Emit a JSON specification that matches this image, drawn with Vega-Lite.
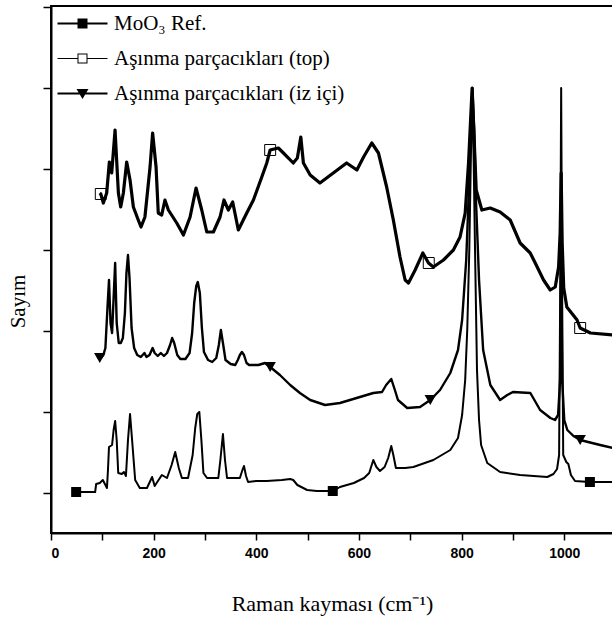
{
  "$schema": "https://vega.github.io/schema/vega-lite/v6.json",
  "width": 562,
  "height": 527,
  "autosize": {"type": "none"},
  "padding": {"left": 51, "top": 6, "right": 0, "bottom": 91},
  "background": "white",
  "config": {
    "view": {"stroke": "black", "strokeWidth": 2},
    "axis": {"grid": false, "domainColor": "black", "domainWidth": 2, "tickColor": "black", "tickWidth": 1.5, "labelColor": "black", "titleColor": "black"}
  },
  "datasets": {
    "spectra": [
      {"series": "MoO₃ Ref.", "x": 49, "y": 1}, {"series": "MoO₃ Ref.", "x": 86, "y": 1}, {"series": "MoO₃ Ref.", "x": 88, "y": 9}, {"series": "MoO₃ Ref.", "x": 95, "y": 10}, {"series": "MoO₃ Ref.", "x": 101, "y": 13}, {"series": "MoO₃ Ref.", "x": 105, "y": 9}, {"series": "MoO₃ Ref.", "x": 109, "y": 5}, {"series": "MoO₃ Ref.", "x": 111, "y": 23}, {"series": "MoO₃ Ref.", "x": 113, "y": 46}, {"series": "MoO₃ Ref.", "x": 119, "y": 48}, {"series": "MoO₃ Ref.", "x": 122, "y": 63}, {"series": "MoO₃ Ref.", "x": 125, "y": 72}, {"series": "MoO₃ Ref.", "x": 128, "y": 53}, {"series": "MoO₃ Ref.", "x": 131, "y": 20}, {"series": "MoO₃ Ref.", "x": 138, "y": 19}, {"series": "MoO₃ Ref.", "x": 142, "y": 21}, {"series": "MoO₃ Ref.", "x": 146, "y": 17}, {"series": "MoO₃ Ref.", "x": 150, "y": 53}, {"series": "MoO₃ Ref.", "x": 154, "y": 79}, {"series": "MoO₃ Ref.", "x": 158, "y": 53}, {"series": "MoO₃ Ref.", "x": 164, "y": 13}, {"series": "MoO₃ Ref.", "x": 173, "y": 5}, {"series": "MoO₃ Ref.", "x": 187, "y": 5}, {"series": "MoO₃ Ref.", "x": 197, "y": 16}, {"series": "MoO₃ Ref.", "x": 202, "y": 7}, {"series": "MoO₃ Ref.", "x": 207, "y": 11}, {"series": "MoO₃ Ref.", "x": 216, "y": 18}, {"series": "MoO₃ Ref.", "x": 226, "y": 15}, {"series": "MoO₃ Ref.", "x": 235, "y": 28}, {"series": "MoO₃ Ref.", "x": 242, "y": 41}, {"series": "MoO₃ Ref.", "x": 249, "y": 25}, {"series": "MoO₃ Ref.", "x": 255, "y": 15}, {"series": "MoO₃ Ref.", "x": 267, "y": 15}, {"series": "MoO₃ Ref.", "x": 276, "y": 38}, {"series": "MoO₃ Ref.", "x": 281, "y": 65}, {"series": "MoO₃ Ref.", "x": 285, "y": 79}, {"series": "MoO₃ Ref.", "x": 289, "y": 81}, {"series": "MoO₃ Ref.", "x": 293, "y": 53}, {"series": "MoO₃ Ref.", "x": 297, "y": 20}, {"series": "MoO₃ Ref.", "x": 304, "y": 15}, {"series": "MoO₃ Ref.", "x": 326, "y": 15}, {"series": "MoO₃ Ref.", "x": 330, "y": 33}, {"series": "MoO₃ Ref.", "x": 335, "y": 59}, {"series": "MoO₃ Ref.", "x": 339, "y": 33}, {"series": "MoO₃ Ref.", "x": 343, "y": 15}, {"series": "MoO₃ Ref.", "x": 368, "y": 15}, {"series": "MoO₃ Ref.", "x": 373, "y": 23}, {"series": "MoO₃ Ref.", "x": 376, "y": 27}, {"series": "MoO₃ Ref.", "x": 380, "y": 17}, {"series": "MoO₃ Ref.", "x": 384, "y": 11}, {"series": "MoO₃ Ref.", "x": 400, "y": 12}, {"series": "MoO₃ Ref.", "x": 420, "y": 12}, {"series": "MoO₃ Ref.", "x": 450, "y": 13}, {"series": "MoO₃ Ref.", "x": 466, "y": 14}, {"series": "MoO₃ Ref.", "x": 472, "y": 13}, {"series": "MoO₃ Ref.", "x": 480, "y": 8}, {"series": "MoO₃ Ref.", "x": 499, "y": 3}, {"series": "MoO₃ Ref.", "x": 518, "y": 2}, {"series": "MoO₃ Ref.", "x": 538, "y": 2}, {"series": "MoO₃ Ref.", "x": 550, "y": 2}, {"series": "MoO₃ Ref.", "x": 563, "y": 6}, {"series": "MoO₃ Ref.", "x": 590, "y": 10}, {"series": "MoO₃ Ref.", "x": 610, "y": 15}, {"series": "MoO₃ Ref.", "x": 620, "y": 20}, {"series": "MoO₃ Ref.", "x": 628, "y": 33}, {"series": "MoO₃ Ref.", "x": 634, "y": 26}, {"series": "MoO₃ Ref.", "x": 641, "y": 22}, {"series": "MoO₃ Ref.", "x": 650, "y": 26}, {"series": "MoO₃ Ref.", "x": 657, "y": 35}, {"series": "MoO₃ Ref.", "x": 663, "y": 47}, {"series": "MoO₃ Ref.", "x": 667, "y": 38}, {"series": "MoO₃ Ref.", "x": 672, "y": 25}, {"series": "MoO₃ Ref.", "x": 690, "y": 25}, {"series": "MoO₃ Ref.", "x": 706, "y": 26}, {"series": "MoO₃ Ref.", "x": 745, "y": 33}, {"series": "MoO₃ Ref.", "x": 778, "y": 43}, {"series": "MoO₃ Ref.", "x": 793, "y": 55}, {"series": "MoO₃ Ref.", "x": 801, "y": 78}, {"series": "MoO₃ Ref.", "x": 807, "y": 113}, {"series": "MoO₃ Ref.", "x": 811, "y": 163}, {"series": "MoO₃ Ref.", "x": 815, "y": 243}, {"series": "MoO₃ Ref.", "x": 818, "y": 333}, {"series": "MoO₃ Ref.", "x": 820.5, "y": 405}, {"series": "MoO₃ Ref.", "x": 823.5, "y": 333}, {"series": "MoO₃ Ref.", "x": 826.5, "y": 233}, {"series": "MoO₃ Ref.", "x": 830, "y": 123}, {"series": "MoO₃ Ref.", "x": 834, "y": 73}, {"series": "MoO₃ Ref.", "x": 838, "y": 48}, {"series": "MoO₃ Ref.", "x": 850, "y": 30}, {"series": "MoO₃ Ref.", "x": 875, "y": 21}, {"series": "MoO₃ Ref.", "x": 914, "y": 18}, {"series": "MoO₃ Ref.", "x": 967, "y": 16}, {"series": "MoO₃ Ref.", "x": 979, "y": 19}, {"series": "MoO₃ Ref.", "x": 986, "y": 24}, {"series": "MoO₃ Ref.", "x": 990, "y": 38}, {"series": "MoO₃ Ref.", "x": 992, "y": 193}, {"series": "MoO₃ Ref.", "x": 994, "y": 405}, {"series": "MoO₃ Ref.", "x": 996, "y": 193}, {"series": "MoO₃ Ref.", "x": 998, "y": 38}, {"series": "MoO₃ Ref.", "x": 1004, "y": 31}, {"series": "MoO₃ Ref.", "x": 1008, "y": 29}, {"series": "MoO₃ Ref.", "x": 1013, "y": 18}, {"series": "MoO₃ Ref.", "x": 1021, "y": 12}, {"series": "MoO₃ Ref.", "x": 1049, "y": 11}, {"series": "MoO₃ Ref.", "x": 1095, "y": 11},

      {"series": "Aşınma parçacıkları (top)", "x": 95, "y": 300}, {"series": "Aşınma parçacıkları (top)", "x": 97, "y": 299}, {"series": "Aşınma parçacıkları (top)", "x": 102, "y": 290}, {"series": "Aşınma parçacıkları (top)", "x": 108.5, "y": 300}, {"series": "Aşınma parçacıkları (top)", "x": 113.7, "y": 331}, {"series": "Aşınma parçacıkları (top)", "x": 118.3, "y": 320}, {"series": "Aşınma parçacıkları (top)", "x": 124.8, "y": 363}, {"series": "Aşınma parçacıkları (top)", "x": 131.3, "y": 300}, {"series": "Aşınma parçacıkları (top)", "x": 135.8, "y": 286}, {"series": "Aşınma parçacıkları (top)", "x": 141, "y": 300}, {"series": "Aşınma parçacıkları (top)", "x": 147.5, "y": 331}, {"series": "Aşınma parçacıkları (top)", "x": 154, "y": 313}, {"series": "Aşınma parçacıkları (top)", "x": 160.5, "y": 286}, {"series": "Aşınma parçacıkları (top)", "x": 170, "y": 273}, {"series": "Aşınma parçacıkları (top)", "x": 175.4, "y": 266}, {"series": "Aşınma parçacıkları (top)", "x": 183, "y": 276}, {"series": "Aşınma parçacıkları (top)", "x": 193, "y": 326}, {"series": "Aşınma parçacıkları (top)", "x": 198, "y": 360}, {"series": "Aşınma parçacıkları (top)", "x": 204.7, "y": 326}, {"series": "Aşınma parçacıkları (top)", "x": 209, "y": 280}, {"series": "Aşınma parçacıkları (top)", "x": 215.7, "y": 278}, {"series": "Aşınma parçacıkları (top)", "x": 222, "y": 293}, {"series": "Aşınma parçacıkları (top)", "x": 228.7, "y": 283}, {"series": "Aşınma parçacıkları (top)", "x": 245, "y": 270}, {"series": "Aşınma parçacıkları (top)", "x": 258, "y": 258}, {"series": "Aşınma parçacıkları (top)", "x": 271, "y": 276}, {"series": "Aşınma parçacıkları (top)", "x": 282.6, "y": 305}, {"series": "Aşınma parçacıkları (top)", "x": 293.7, "y": 283}, {"series": "Aşınma parçacıkları (top)", "x": 303.5, "y": 261}, {"series": "Aşınma parçacıkları (top)", "x": 316.4, "y": 261}, {"series": "Aşınma parçacıkları (top)", "x": 329.4, "y": 276}, {"series": "Aşınma parçacıkları (top)", "x": 337, "y": 293}, {"series": "Aşınma parçacıkları (top)", "x": 345.6, "y": 283}, {"series": "Aşınma parçacıkları (top)", "x": 354, "y": 291}, {"series": "Aşınma parçacıkları (top)", "x": 365, "y": 263}, {"series": "Aşınma parçacıkları (top)", "x": 381.4, "y": 280}, {"series": "Aşınma parçacıkları (top)", "x": 394.4, "y": 293}, {"series": "Aşınma parçacıkları (top)", "x": 410.7, "y": 316}, {"series": "Aşınma parçacıkları (top)", "x": 420.4, "y": 330}, {"series": "Aşınma parçacıkları (top)", "x": 427, "y": 343}, {"series": "Aşınma parçacıkları (top)", "x": 443, "y": 345}, {"series": "Aşınma parçacıkları (top)", "x": 452.8, "y": 340}, {"series": "Aşınma parçacıkları (top)", "x": 472, "y": 330}, {"series": "Aşınma parçacıkları (top)", "x": 480, "y": 335}, {"series": "Aşınma parçacıkları (top)", "x": 486.7, "y": 356}, {"series": "Aşınma parçacıkları (top)", "x": 491.8, "y": 330}, {"series": "Aşınma parçacıkları (top)", "x": 505, "y": 318}, {"series": "Aşınma parçacıkları (top)", "x": 524, "y": 310}, {"series": "Aşınma parçacıkları (top)", "x": 550, "y": 320}, {"series": "Aşınma parçacıkları (top)", "x": 576, "y": 330}, {"series": "Aşınma parçacıkları (top)", "x": 596, "y": 323}, {"series": "Aşınma parçacıkları (top)", "x": 609, "y": 336}, {"series": "Aşınma parçacıkları (top)", "x": 625, "y": 350}, {"series": "Aşınma parçacıkları (top)", "x": 638, "y": 340}, {"series": "Aşınma parçacıkları (top)", "x": 654, "y": 306}, {"series": "Aşınma parçacıkları (top)", "x": 667, "y": 273}, {"series": "Aşınma parçacıkları (top)", "x": 680, "y": 236}, {"series": "Aşınma parçacıkları (top)", "x": 690, "y": 213}, {"series": "Aşınma parçacıkları (top)", "x": 696.5, "y": 210}, {"series": "Aşınma parçacıkları (top)", "x": 709.5, "y": 223}, {"series": "Aşınma parçacıkları (top)", "x": 724.5, "y": 240}, {"series": "Aşınma parçacıkları (top)", "x": 735.5, "y": 230}, {"series": "Aşınma parçacıkları (top)", "x": 745, "y": 226}, {"series": "Aşınma parçacıkları (top)", "x": 764.7, "y": 233}, {"series": "Aşınma parçacıkları (top)", "x": 784, "y": 243}, {"series": "Aşınma parçacıkları (top)", "x": 797, "y": 256}, {"series": "Aşınma parçacıkları (top)", "x": 807, "y": 280}, {"series": "Aşınma parçacıkları (top)", "x": 813.5, "y": 330}, {"series": "Aşınma parçacıkları (top)", "x": 820.5, "y": 405}, {"series": "Aşınma parçacıkları (top)", "x": 828.5, "y": 303}, {"series": "Aşınma parçacıkları (top)", "x": 839.5, "y": 283}, {"series": "Aşınma parçacıkları (top)", "x": 855.8, "y": 285}, {"series": "Aşınma parçacıkları (top)", "x": 875, "y": 281}, {"series": "Aşınma parçacıkları (top)", "x": 894.7, "y": 273}, {"series": "Aşınma parçacıkları (top)", "x": 914, "y": 250}, {"series": "Aşınma parçacıkları (top)", "x": 933.7, "y": 240}, {"series": "Aşınma parçacıkları (top)", "x": 943.5, "y": 230}, {"series": "Aşınma parçacıkları (top)", "x": 959.7, "y": 213}, {"series": "Aşınma parçacıkları (top)", "x": 972.7, "y": 203}, {"series": "Aşınma parçacıkları (top)", "x": 982.5, "y": 206}, {"series": "Aşınma parçacıkları (top)", "x": 989, "y": 226}, {"series": "Aşınma parçacıkları (top)", "x": 992, "y": 260}, {"series": "Aşınma parçacıkları (top)", "x": 994, "y": 320}, {"series": "Aşınma parçacıkları (top)", "x": 996, "y": 250}, {"series": "Aşınma parçacıkları (top)", "x": 999, "y": 205}, {"series": "Aşınma parçacıkları (top)", "x": 1005, "y": 186}, {"series": "Aşınma parçacıkları (top)", "x": 1025, "y": 173}, {"series": "Aşınma parçacıkları (top)", "x": 1031, "y": 165}, {"series": "Aşınma parçacıkları (top)", "x": 1051, "y": 160}, {"series": "Aşınma parçacıkları (top)", "x": 1095, "y": 158},

      {"series": "Aşınma parçacıkları (iz içi)", "x": 90, "y": 136}, {"series": "Aşınma parçacıkları (iz içi)", "x": 97, "y": 135}, {"series": "Aşınma parçacıkları (iz içi)", "x": 102, "y": 138}, {"series": "Aşınma parçacıkları (iz içi)", "x": 106, "y": 145}, {"series": "Aşınma parçacıkları (iz içi)", "x": 110, "y": 185}, {"series": "Aşınma parçacıkları (iz içi)", "x": 113, "y": 213}, {"series": "Aşınma parçacıkları (iz içi)", "x": 116, "y": 170}, {"series": "Aşınma parçacıkları (iz içi)", "x": 119, "y": 160}, {"series": "Aşınma parçacıkları (iz içi)", "x": 122, "y": 195}, {"series": "Aşınma parçacıkları (iz içi)", "x": 125, "y": 230}, {"series": "Aşınma parçacıkları (iz içi)", "x": 128, "y": 170}, {"series": "Aşınma parçacıkları (iz içi)", "x": 132, "y": 150}, {"series": "Aşınma parçacıkları (iz içi)", "x": 136, "y": 150}, {"series": "Aşınma parçacıkları (iz içi)", "x": 140, "y": 155}, {"series": "Aşınma parçacıkları (iz içi)", "x": 144, "y": 180}, {"series": "Aşınma parçacıkları (iz içi)", "x": 147, "y": 220}, {"series": "Aşınma parçacıkları (iz içi)", "x": 150, "y": 238}, {"series": "Aşınma parçacıkları (iz içi)", "x": 153, "y": 215}, {"series": "Aşınma parçacıkları (iz içi)", "x": 157, "y": 165}, {"series": "Aşınma parçacıkları (iz içi)", "x": 162, "y": 145}, {"series": "Aşınma parçacıkları (iz içi)", "x": 168, "y": 138}, {"series": "Aşınma parçacıkları (iz içi)", "x": 175, "y": 136}, {"series": "Aşınma parçacıkları (iz içi)", "x": 182, "y": 140}, {"series": "Aşınma parçacıkları (iz içi)", "x": 186, "y": 136}, {"series": "Aşınma parçacıkları (iz içi)", "x": 192, "y": 138}, {"series": "Aşınma parçacıkları (iz içi)", "x": 198, "y": 145}, {"series": "Aşınma parçacıkları (iz içi)", "x": 202, "y": 140}, {"series": "Aşınma parçacıkları (iz içi)", "x": 208, "y": 137}, {"series": "Aşınma parçacıkları (iz içi)", "x": 214, "y": 140}, {"series": "Aşınma parçacıkları (iz içi)", "x": 220, "y": 137}, {"series": "Aşınma parçacıkları (iz içi)", "x": 226, "y": 140}, {"series": "Aşınma parçacıkları (iz içi)", "x": 232, "y": 148}, {"series": "Aşınma parçacıkları (iz içi)", "x": 236, "y": 155}, {"series": "Aşınma parçacıkları (iz içi)", "x": 240, "y": 150}, {"series": "Aşınma parçacıkları (iz içi)", "x": 246, "y": 138}, {"series": "Aşınma parçacıkları (iz içi)", "x": 252, "y": 134}, {"series": "Aşınma parçacıkları (iz içi)", "x": 262, "y": 134}, {"series": "Aşınma parçacıkları (iz içi)", "x": 270, "y": 140}, {"series": "Aşınma parçacıkları (iz içi)", "x": 275, "y": 160}, {"series": "Aşınma parçacıkları (iz içi)", "x": 279, "y": 190}, {"series": "Aşınma parçacıkları (iz içi)", "x": 283, "y": 207}, {"series": "Aşınma parçacıkları (iz içi)", "x": 286, "y": 211}, {"series": "Aşınma parçacıkları (iz içi)", "x": 290, "y": 200}, {"series": "Aşınma parçacıkları (iz içi)", "x": 294, "y": 165}, {"series": "Aşınma parçacıkları (iz içi)", "x": 298, "y": 141}, {"series": "Aşınma parçacıkları (iz içi)", "x": 306, "y": 133}, {"series": "Aşınma parçacıkları (iz içi)", "x": 314, "y": 131}, {"series": "Aşınma parçacıkları (iz içi)", "x": 322, "y": 135}, {"series": "Aşınma parçacıkları (iz içi)", "x": 327, "y": 148}, {"series": "Aşınma parçacıkları (iz içi)", "x": 331, "y": 163}, {"series": "Aşınma parçacıkları (iz içi)", "x": 335, "y": 150}, {"series": "Aşınma parçacıkları (iz içi)", "x": 340, "y": 133}, {"series": "Aşınma parçacıkları (iz içi)", "x": 350, "y": 129}, {"series": "Aşınma parçacıkları (iz içi)", "x": 359, "y": 128}, {"series": "Aşınma parçacıkları (iz içi)", "x": 364, "y": 133}, {"series": "Aşınma parçacıkları (iz içi)", "x": 368, "y": 138}, {"series": "Aşınma parçacıkları (iz içi)", "x": 372, "y": 141}, {"series": "Aşınma parçacıkları (iz içi)", "x": 376, "y": 138}, {"series": "Aşınma parçacıkları (iz içi)", "x": 381, "y": 130}, {"series": "Aşınma parçacıkları (iz içi)", "x": 386, "y": 128}, {"series": "Aşınma parçacıkları (iz içi)", "x": 404, "y": 128}, {"series": "Aşınma parçacıkları (iz içi)", "x": 417, "y": 130}, {"series": "Aşınma parçacıkları (iz içi)", "x": 427, "y": 126}, {"series": "Aşınma parçacıkları (iz içi)", "x": 446, "y": 118}, {"series": "Aşınma parçacıkları (iz içi)", "x": 466, "y": 108}, {"series": "Aşınma parçacıkları (iz içi)", "x": 485, "y": 100}, {"series": "Aşınma parçacıkları (iz içi)", "x": 505, "y": 93}, {"series": "Aşınma parçacıkları (iz içi)", "x": 534, "y": 88}, {"series": "Aşınma parçacıkları (iz içi)", "x": 563, "y": 90}, {"series": "Aşınma parçacıkları (iz içi)", "x": 602, "y": 96}, {"series": "Aşınma parçacıkları (iz içi)", "x": 628, "y": 100}, {"series": "Aşınma parçacıkları (iz içi)", "x": 645, "y": 101}, {"series": "Aşınma parçacıkları (iz içi)", "x": 653, "y": 108}, {"series": "Aşınma parçacıkları (iz içi)", "x": 663, "y": 114}, {"series": "Aşınma parçacıkları (iz içi)", "x": 670, "y": 103}, {"series": "Aşınma parçacıkları (iz içi)", "x": 676, "y": 93}, {"series": "Aşınma parçacıkları (iz içi)", "x": 694, "y": 85}, {"series": "Aşınma parçacıkları (iz içi)", "x": 719, "y": 86}, {"series": "Aşınma parçacıkları (iz içi)", "x": 739, "y": 93}, {"series": "Aşınma parçacıkları (iz içi)", "x": 758, "y": 103}, {"series": "Aşınma parçacıkları (iz içi)", "x": 778, "y": 120}, {"series": "Aşınma parçacıkları (iz içi)", "x": 793, "y": 143}, {"series": "Aşınma parçacıkları (iz içi)", "x": 801, "y": 173}, {"series": "Aşınma parçacıkları (iz içi)", "x": 809, "y": 233}, {"series": "Aşınma parçacıkları (iz içi)", "x": 815, "y": 313}, {"series": "Aşınma parçacıkları (iz içi)", "x": 819, "y": 383}, {"series": "Aşınma parçacıkları (iz içi)", "x": 821, "y": 405}, {"series": "Aşınma parçacıkları (iz içi)", "x": 824.6, "y": 363}, {"series": "Aşınma parçacıkları (iz içi)", "x": 828, "y": 293}, {"series": "Aşınma parçacıkları (iz içi)", "x": 834, "y": 213}, {"series": "Aşınma parçacıkları (iz içi)", "x": 842, "y": 143}, {"series": "Aşınma parçacıkları (iz içi)", "x": 856, "y": 108}, {"series": "Aşınma parçacıkları (iz içi)", "x": 875, "y": 93}, {"series": "Aşınma parçacıkları (iz içi)", "x": 889, "y": 98}, {"series": "Aşınma parçacıkları (iz içi)", "x": 900, "y": 101}, {"series": "Aşınma parçacıkları (iz içi)", "x": 934, "y": 100}, {"series": "Aşınma parçacıkları (iz içi)", "x": 953, "y": 83}, {"series": "Aşınma parçacıkları (iz içi)", "x": 973, "y": 75}, {"series": "Aşınma parçacıkları (iz içi)", "x": 982, "y": 73}, {"series": "Aşınma parçacıkları (iz içi)", "x": 988, "y": 78}, {"series": "Aşınma parçacıkları (iz içi)", "x": 992, "y": 113}, {"series": "Aşınma parçacıkları (iz içi)", "x": 994, "y": 243}, {"series": "Aşınma parçacıkları (iz içi)", "x": 996, "y": 113}, {"series": "Aşınma parçacıkları (iz içi)", "x": 1000, "y": 73}, {"series": "Aşınma parçacıkları (iz içi)", "x": 1006, "y": 63}, {"series": "Aşınma parçacıkları (iz içi)", "x": 1018, "y": 57}, {"series": "Aşınma parçacıkları (iz içi)", "x": 1031, "y": 53}, {"series": "Aşınma parçacıkları (iz içi)", "x": 1070, "y": 48}, {"series": "Aşınma parçacıkları (iz içi)", "x": 1095, "y": 45}
    ],
    "markers": [
      {"series": "MoO₃ Ref.", "x": 49, "y": 1}, {"series": "MoO₃ Ref.", "x": 549, "y": 2}, {"series": "MoO₃ Ref.", "x": 1050, "y": 11},
      {"series": "Aşınma parçacıkları (top)", "x": 97, "y": 299}, {"series": "Aşınma parçacıkları (top)", "x": 427, "y": 343}, {"series": "Aşınma parçacıkları (top)", "x": 736, "y": 230}, {"series": "Aşınma parçacıkları (top)", "x": 1031, "y": 165},
      {"series": "Aşınma parçacıkları (iz içi)", "x": 95, "y": 135}, {"series": "Aşınma parçacıkları (iz içi)", "x": 427, "y": 126}, {"series": "Aşınma parçacıkları (iz içi)", "x": 739, "y": 93}, {"series": "Aşınma parçacıkları (iz içi)", "x": 1031, "y": 53}
    ]
  },
  "encoding": {
    "x": {"field": "x", "type": "quantitative", "scale": {"domain": [0, 1095], "nice": false, "zero": false},
      "axis": {"title": "Raman kayması (cm⁻¹)", "values": [0, 100, 200, 300, 400, 500, 600, 700, 800, 900, 1000],
        "labelExpr": "datum.value % 200 === 0 ? datum.label : ''", "format": "d",
        "labelFont": "Liberation Sans", "labelFontWeight": "bold", "labelFontSize": 14, "tickSize": 7, "labelPadding": 6,
        "titleFont": "Liberation Serif", "titleFontSize": 22, "titleFontWeight": "normal", "titleY": 70, "titleBaseline": "middle"}},
    "y": {"field": "y", "type": "quantitative", "scale": {"domain": [-40, 487], "nice": false, "zero": false},
      "axis": {"title": "Sayım", "values": [0, 81, 162, 243, 324, 405, 486], "labels": false, "tickSize": 8,
        "titleFont": "Liberation Serif", "titleFontSize": 21, "titleFontWeight": "normal", "titleX": -33, "titleY": 295, "titleBaseline": "middle", "titleAngle": -90}}
  },
  "layer": [
    {
      "data": {"name": "spectra"},
      "transform": [{"filter": "datum.series === 'MoO₃ Ref.'"}],
      "mark": {"type": "line", "color": "black", "strokeWidth": 2, "strokeJoin": "round"}
    },
    {
      "data": {"name": "spectra"},
      "transform": [{"filter": "datum.series === 'Aşınma parçacıkları (top)'"}],
      "mark": {"type": "line", "color": "black", "strokeWidth": 3.2, "strokeJoin": "round"}
    },
    {
      "data": {"name": "spectra"},
      "transform": [{"filter": "datum.series === 'Aşınma parçacıkları (iz içi)'"}],
      "mark": {"type": "line", "color": "black", "strokeWidth": 2.4, "strokeJoin": "round"}
    },
    {
      "data": {"name": "markers"},
      "transform": [{"filter": "datum.series === 'MoO₃ Ref.'"}],
      "mark": {"type": "point", "shape": "square", "filled": true, "color": "black", "opacity": 1, "size": 100}
    },
    {
      "data": {"name": "markers"},
      "transform": [{"filter": "datum.series === 'Aşınma parçacıkları (top)'"}],
      "mark": {"type": "point", "shape": "square", "filled": false, "color": "black", "strokeWidth": 1, "opacity": 1, "size": 120}
    },
    {
      "data": {"name": "markers"},
      "transform": [{"filter": "datum.series === 'Aşınma parçacıkları (iz içi)'"}],
      "mark": {"type": "point", "shape": "triangle-down", "filled": true, "color": "black", "opacity": 1, "size": 130}
    },
    {
      "data": {"name": "markers"},
      "transform": [{"filter": "false"}],
      "mark": {"type": "point", "filled": true, "color": "black", "opacity": 1},
      "encoding": {
        "shape": {"field": "series", "type": "nominal",
          "scale": {"domain": ["MoO₃ Ref.", "Aşınma parçacıkları (top)", "Aşınma parçacıkları (iz içi)"],
            "range": [
              "M-2.5,-0.1H2.5V0.1H-2.5Z M-0.5,-0.5H0.5V0.5H-0.5Z",
              "M-2.5,-0.06H-0.5V0.06H-2.5Z M0.5,-0.06H2.5V0.06H0.5Z M-0.5,-0.5H0.5V0.5H-0.5Z M-0.4,-0.4V0.4H0.4V-0.4Z",
              "M-2.5,-0.1H2.5V0.1H-2.5Z M-0.6,-0.45H0.6L0,0.55Z"
            ]},
          "legend": {"title": null, "orient": "none", "legendX": 21, "legendY": 7, "padding": 0,
            "symbolSize": 400, "symbolFillColor": "black", "symbolStrokeWidth": 0, "symbolOpacity": 1,
            "labelFont": "Liberation Serif", "labelFontSize": 21, "labelColor": "black", "labelOffset": 21, "labelLimit": 400,
            "rowPadding": 13}
        }
      }
    }
  ]
}
